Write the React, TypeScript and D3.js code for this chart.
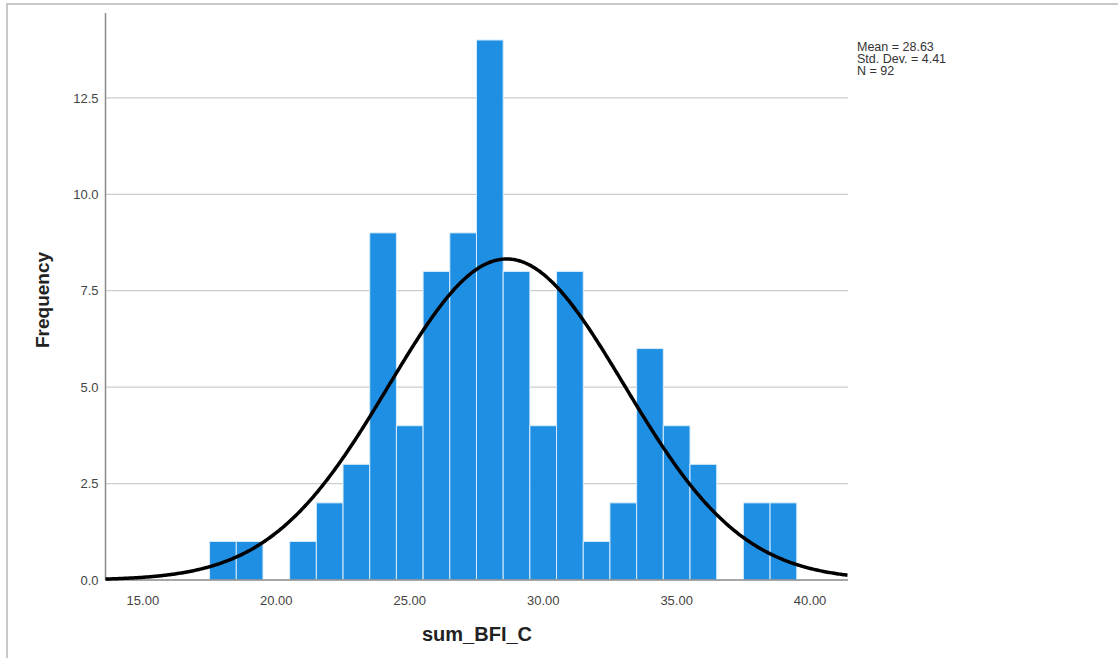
import React from "react";
import * as d3 from "d3";

const binCenters = [18, 19, 20, 21, 22, 23, 24, 25, 26, 27, 28, 29, 30, 31, 32, 33, 34, 35, 36, 37, 38, 39];
const frequencies = [1, 1, 0, 1, 2, 3, 9, 4, 8, 9, 14, 8, 4, 8, 1, 2, 6, 4, 3, 0, 2, 2];
const xTicks = [15, 20, 25, 30, 35, 40];
const yTicks = [0, 2.5, 5, 7.5, 10, 12.5];
const statsLines = ["Mean = 28.63", "Std. Dev. = 4.41", "N = 92"];
const MEAN = 28.63;
const SD = 4.41;
const N = 92;
const BIN_WIDTH = 1;

export default function App() {
  const W = 1118, H = 658;
  const left = 105.5, right = 848, top = 13, bottom = 580;
  const x = d3.scaleLinear().domain([13.6, 41.42]).range([left, right]);
  const y = d3.scaleLinear().domain([0, 14.7]).range([bottom, top]);

  const curvePts = d3.range(13.6, 41.42 + 0.001, 0.05).map((v) => [
    v,
    (N * BIN_WIDTH) / (SD * Math.sqrt(2 * Math.PI)) * Math.exp(-0.5 * ((v - MEAN) / SD) ** 2),
  ] as [number, number]);
  const line = d3.line<[number, number]>().x((d) => x(d[0])).y((d) => y(d[1])).curve(d3.curveLinear);

  const font = "'Liberation Sans', Arial, sans-serif";
  return (
    <svg width={W} height={H} style={{ position: "fixed", left: 0, top: 0, background: "#fff" }} fontFamily={font}>
      <rect x={7} y={4} width={W + 20} height={H + 20} fill="none" stroke="#c8c8c8" strokeWidth={2} />
      {yTicks.filter((t) => t > 0).map((t) => (
        <line key={t} x1={left} x2={right} y1={y(t)} y2={y(t)} stroke="#cdcdcd" strokeWidth={1.3} />
      ))}
      {binCenters.map((c, i) =>
        frequencies[i] > 0 ? (
          <rect
            key={c}
            x={x(c - BIN_WIDTH / 2)}
            y={y(frequencies[i])}
            width={x(c + BIN_WIDTH / 2) - x(c - BIN_WIDTH / 2)}
            height={y(0) - y(frequencies[i])}
            fill="#1e8fe3"
            stroke="#d8ecfb"
            strokeWidth={1}
          />
        ) : null
      )}
      <line x1={left} x2={left} y1={top} y2={bottom} stroke="#8a8a8a" strokeWidth={1.5} />
      <line x1={left} x2={right} y1={bottom} y2={bottom} stroke="#8a8a8a" strokeWidth={1.5} />
      <path d={line(curvePts) || ""} fill="none" stroke="#000" strokeWidth={3.5} />
      {yTicks.map((t) => (
        <text key={t} x={left - 7} y={y(t)} dy="0.36em" textAnchor="end" fontSize={13} fill="#444">
          {t.toFixed(1)}
        </text>
      ))}
      {xTicks.map((t) => (
        <text key={t} x={x(t)} y={bottom + 25} textAnchor="middle" fontSize={13} fill="#444">
          {t.toFixed(2)}
        </text>
      ))}
      <text x={477} y={641} textAnchor="middle" fontSize={20} fontWeight="bold" fill="#222">
        sum_BFI_C
      </text>
      <text transform="translate(49,300) rotate(-90)" textAnchor="middle" fontSize={19} fontWeight="bold" fill="#222">
        Frequency
      </text>
      {statsLines.map((s, i) => (
        <text key={s} x={857} y={51 + i * 12} fontSize={12.5} fill="#333">
          {s}
        </text>
      ))}
    </svg>
  );
}
